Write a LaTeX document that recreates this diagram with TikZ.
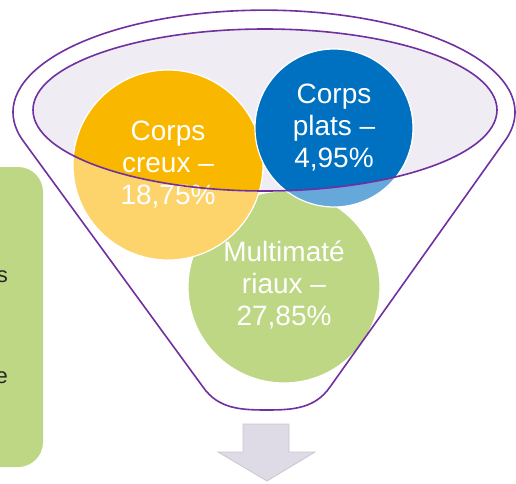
\documentclass[tikz,border=0pt]{standalone}
\usepackage{fontspec}
\setmainfont{Liberation Sans}
\definecolor{fpurple}{HTML}{7030A0}
\definecolor{lav}{HTML}{EFECF4}
\definecolor{orsat}{HTML}{F9B700}
\definecolor{orlt}{HTML}{FCD46B}
\definecolor{blsat}{HTML}{0070C0}
\definecolor{bllt}{HTML}{66A8D9}
\definecolor{grn}{HTML}{BDD784}
\definecolor{arrowfill}{HTML}{DEDAE6}
\definecolor{arrowedge}{HTML}{CAC6D2}
\begin{document}
\begin{tikzpicture}[x=1pt,y=1pt,
  bubble/.style={circle, draw=white, line width=1.2pt, inner sep=0pt},
  bubbletext/.style={text=white, align=center, font=\fontsize{28}{32}\selectfont},
  funnelline/.style={draw=fpurple, line width=1.6pt},
  sidetext/.style={text=black!85, font=\fontsize{22}{26}\selectfont, anchor=east, inner sep=0pt}]
\clip (0,0) rectangle (516,483);
% left box
\node[fill=grn, rounded corners=25pt, minimum width=90pt, minimum height=300pt, inner sep=0pt] (box) at (-2,166) {};
\node[sidetext] (ts) at (8,206) {s};
\node[sidetext] (te) at (8,105) {e};
% funnel body
\path[fill=white] (24,341) arc[start angle=197,end angle=-17,x radius=251,y radius=102]
  -- (330,96) to[out=-125,in=0] (267,73) to[out=180,in=-55] (203,96) -- cycle;
\fill[lav] (265,373) ellipse[x radius=232, y radius=81];
% circles
\node[bubble, fill=grn, minimum size=192pt] (gc) at (284,196) {};
\node[bubble, fill=orlt, minimum size=190pt] (oc) at (168,318) {};
\node[bubble, fill=bllt, minimum size=158pt] (bc) at (334,355) {};
\begin{scope}
  \clip (265,373) ellipse[x radius=232, y radius=81];
  \filldraw[fill=orsat, draw=white, line width=1.2pt] (oc.center) circle[radius=95];
  \filldraw[fill=blsat, draw=white, line width=1.2pt] (bc.center) circle[radius=79];
\end{scope}
% texts
\node[bubbletext] (tc) at (oc.center) {Corps\\creux –\\18,75\%};
\node[bubbletext] (tp) at (bc.center) {Corps\\plats –\\4,95\%};
\node[bubbletext] (tm) at ([yshift=2pt]gc.center) {Multimaté\\riaux –\\27,85\%};
% funnel outlines
\draw[funnelline] (24,341) arc[start angle=197,end angle=-17,x radius=251,y radius=102]
  -- (330,96) to[out=-125,in=0] (267,73) to[out=180,in=-55] (203,96) -- cycle;
\draw[funnelline] (265,373) ellipse[x radius=232, y radius=81];
% arrow
\draw[fill=arrowfill, draw=arrowedge, line width=0.8pt] (243,59) -- (289,59) -- (289,31) -- (315,31) -- (267,2) -- (218,31) -- (243,31) -- cycle;
\end{tikzpicture}
\end{document}
